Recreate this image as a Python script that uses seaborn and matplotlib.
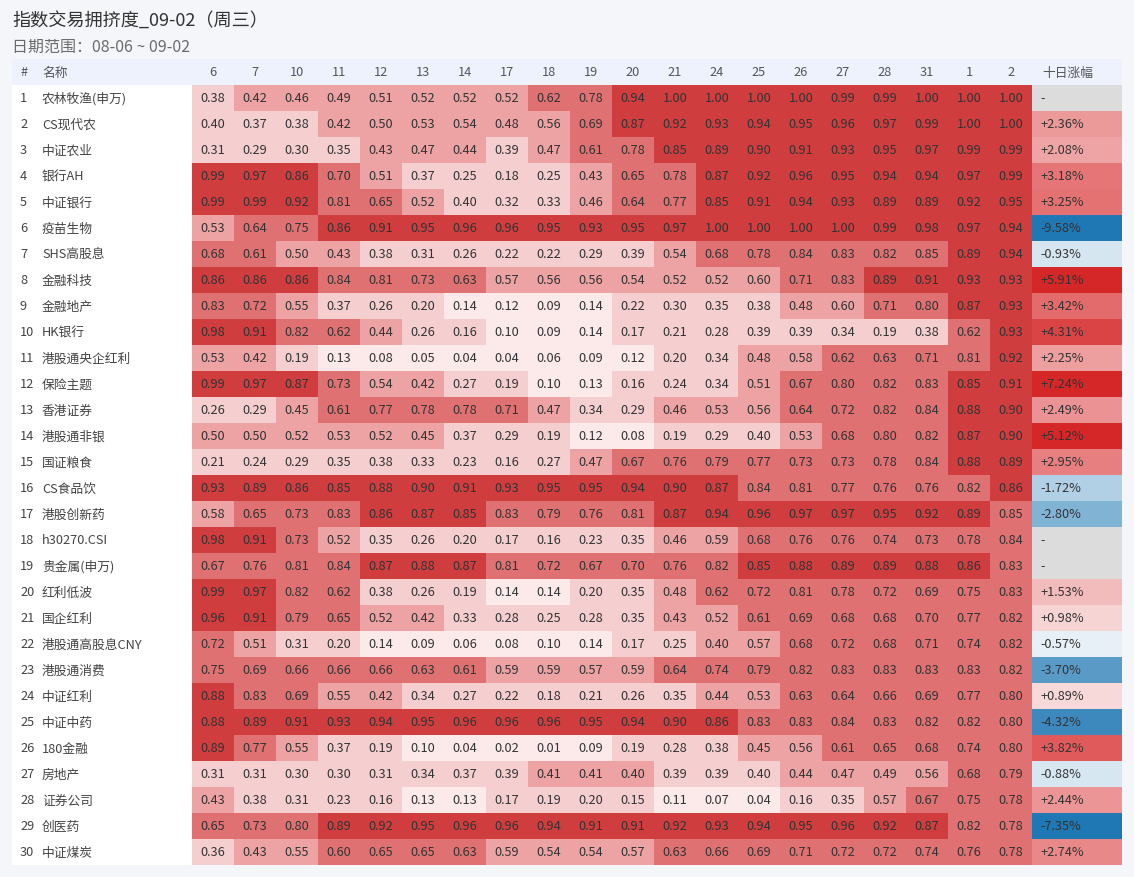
import numpy as np
import pandas as pd
import matplotlib
matplotlib.use("Agg")
import matplotlib.pyplot as plt
import matplotlib.transforms as mtransforms
from matplotlib.patches import Rectangle
from matplotlib.colors import ListedColormap, BoundaryNorm, LinearSegmentedColormap
import seaborn as sns

# ---------------- data ----------------
title = "指数交易拥挤度_09-02（周三）"
subtitle = "日期范围：08-06 ~ 09-02"

dates = ["6", "7", "10", "11", "12", "13", "14", "17", "18", "19",
         "20", "21", "24", "25", "26", "27", "28", "31", "1", "2"]

names = ["农林牧渔(申万)", "CS现代农", "中证农业", "银行AH", "中证银行", "疫苗生物",
         "SHS高股息", "金融科技", "金融地产", "HK银行", "港股通央企红利", "保险主题",
         "香港证券", "港股通非银", "国证粮食", "CS食品饮", "港股创新药", "h30270.CSI",
         "贵金属(申万)", "红利低波", "国企红利", "港股通高股息CNY", "港股通消费", "中证红利",
         "中证中药", "180金融", "房地产", "证券公司", "创医药", "中证煤炭"]

crowding = [
    [0.38, 0.42, 0.46, 0.49, 0.51, 0.52, 0.52, 0.52, 0.62, 0.78, 0.94, 1.00, 1.00, 1.00, 1.00, 0.99, 0.99, 1.00, 1.00, 1.00],
    [0.396, 0.37, 0.38, 0.42, 0.50, 0.53, 0.54, 0.48, 0.56, 0.69, 0.87, 0.92, 0.93, 0.94, 0.95, 0.96, 0.97, 0.99, 1.00, 1.00],
    [0.31, 0.29, 0.30, 0.35, 0.43, 0.47, 0.44, 0.39, 0.47, 0.61, 0.78, 0.852, 0.89, 0.90, 0.91, 0.93, 0.95, 0.97, 0.99, 0.99],
    [0.99, 0.97, 0.86, 0.70, 0.51, 0.37, 0.25, 0.18, 0.25, 0.43, 0.65, 0.78, 0.87, 0.92, 0.96, 0.95, 0.94, 0.94, 0.97, 0.99],
    [0.99, 0.99, 0.92, 0.81, 0.65, 0.52, 0.396, 0.32, 0.33, 0.46, 0.64, 0.77, 0.852, 0.91, 0.94, 0.93, 0.89, 0.89, 0.92, 0.95],
    [0.53, 0.64, 0.75, 0.86, 0.91, 0.95, 0.96, 0.96, 0.95, 0.93, 0.95, 0.97, 1.00, 1.00, 1.00, 1.00, 0.99, 0.98, 0.97, 0.94],
    [0.68, 0.61, 0.50, 0.43, 0.38, 0.31, 0.26, 0.22, 0.22, 0.29, 0.39, 0.54, 0.68, 0.78, 0.84, 0.83, 0.82, 0.848, 0.89, 0.94],
    [0.86, 0.86, 0.86, 0.84, 0.81, 0.73, 0.63, 0.57, 0.56, 0.56, 0.54, 0.52, 0.52, 0.596, 0.71, 0.83, 0.89, 0.91, 0.93, 0.93],
    [0.83, 0.72, 0.55, 0.37, 0.26, 0.20, 0.14, 0.12, 0.09, 0.14, 0.22, 0.30, 0.35, 0.38, 0.48, 0.596, 0.71, 0.80, 0.87, 0.93],
    [0.98, 0.91, 0.82, 0.62, 0.44, 0.26, 0.16, 0.10, 0.09, 0.14, 0.17, 0.21, 0.28, 0.39, 0.39, 0.34, 0.19, 0.38, 0.62, 0.93],
    [0.53, 0.42, 0.19, 0.13, 0.08, 0.05, 0.04, 0.04, 0.06, 0.09, 0.12, 0.20, 0.34, 0.48, 0.58, 0.62, 0.63, 0.71, 0.81, 0.92],
    [0.99, 0.97, 0.87, 0.73, 0.54, 0.42, 0.27, 0.19, 0.10, 0.13, 0.16, 0.24, 0.34, 0.51, 0.67, 0.80, 0.82, 0.83, 0.852, 0.91],
    [0.26, 0.29, 0.45, 0.61, 0.77, 0.78, 0.78, 0.71, 0.47, 0.34, 0.29, 0.46, 0.53, 0.56, 0.64, 0.72, 0.82, 0.84, 0.88, 0.90],
    [0.50, 0.50, 0.52, 0.53, 0.52, 0.45, 0.37, 0.29, 0.19, 0.12, 0.08, 0.19, 0.29, 0.396, 0.53, 0.68, 0.80, 0.82, 0.87, 0.90],
    [0.21, 0.24, 0.29, 0.35, 0.38, 0.33, 0.23, 0.16, 0.27, 0.47, 0.67, 0.76, 0.79, 0.77, 0.73, 0.73, 0.78, 0.84, 0.88, 0.89],
    [0.93, 0.89, 0.86, 0.852, 0.88, 0.90, 0.91, 0.93, 0.95, 0.95, 0.94, 0.90, 0.87, 0.84, 0.81, 0.77, 0.76, 0.76, 0.82, 0.86],
    [0.58, 0.65, 0.73, 0.83, 0.86, 0.87, 0.852, 0.83, 0.79, 0.76, 0.81, 0.87, 0.94, 0.96, 0.97, 0.97, 0.95, 0.92, 0.89, 0.848],
    [0.98, 0.91, 0.73, 0.52, 0.35, 0.26, 0.20, 0.17, 0.16, 0.23, 0.35, 0.46, 0.59, 0.68, 0.76, 0.76, 0.74, 0.73, 0.78, 0.84],
    [0.67, 0.76, 0.81, 0.84, 0.87, 0.88, 0.87, 0.81, 0.72, 0.67, 0.70, 0.76, 0.82, 0.852, 0.88, 0.89, 0.89, 0.88, 0.86, 0.83],
    [0.99, 0.97, 0.82, 0.62, 0.38, 0.26, 0.19, 0.14, 0.14, 0.20, 0.35, 0.48, 0.62, 0.72, 0.81, 0.78, 0.72, 0.69, 0.75, 0.83],
    [0.96, 0.91, 0.79, 0.65, 0.52, 0.42, 0.33, 0.28, 0.25, 0.28, 0.35, 0.43, 0.52, 0.61, 0.69, 0.68, 0.68, 0.70, 0.77, 0.82],
    [0.72, 0.51, 0.31, 0.20, 0.14, 0.09, 0.06, 0.08, 0.10, 0.14, 0.17, 0.25, 0.404, 0.57, 0.68, 0.72, 0.68, 0.71, 0.74, 0.82],
    [0.75, 0.69, 0.66, 0.66, 0.66, 0.63, 0.61, 0.59, 0.59, 0.57, 0.59, 0.64, 0.74, 0.79, 0.82, 0.83, 0.83, 0.83, 0.83, 0.82],
    [0.88, 0.83, 0.69, 0.55, 0.42, 0.34, 0.27, 0.22, 0.18, 0.21, 0.26, 0.35, 0.44, 0.53, 0.63, 0.64, 0.66, 0.69, 0.77, 0.80],
    [0.88, 0.89, 0.91, 0.93, 0.94, 0.95, 0.96, 0.96, 0.96, 0.95, 0.94, 0.90, 0.86, 0.83, 0.83, 0.84, 0.83, 0.82, 0.82, 0.80],
    [0.89, 0.77, 0.55, 0.37, 0.19, 0.10, 0.04, 0.02, 0.01, 0.09, 0.19, 0.28, 0.38, 0.45, 0.56, 0.61, 0.65, 0.68, 0.74, 0.80],
    [0.31, 0.31, 0.30, 0.30, 0.31, 0.34, 0.37, 0.39, 0.41, 0.41, 0.404, 0.39, 0.39, 0.396, 0.44, 0.47, 0.49, 0.56, 0.68, 0.79],
    [0.43, 0.38, 0.31, 0.23, 0.16, 0.13, 0.13, 0.17, 0.19, 0.20, 0.15, 0.11, 0.07, 0.04, 0.16, 0.35, 0.57, 0.67, 0.75, 0.78],
    [0.65, 0.73, 0.80, 0.89, 0.92, 0.95, 0.96, 0.96, 0.94, 0.91, 0.91, 0.92, 0.93, 0.94, 0.95, 0.96, 0.92, 0.87, 0.82, 0.78],
    [0.36, 0.43, 0.55, 0.604, 0.65, 0.65, 0.63, 0.59, 0.54, 0.54, 0.57, 0.63, 0.66, 0.69, 0.71, 0.72, 0.72, 0.74, 0.76, 0.78],
]

ten_day_change = [np.nan, 2.36, 2.08, 3.18, 3.25, -9.58, -0.93, 5.91, 3.42, 4.31,
                  2.25, 7.24, 2.49, 5.12, 2.95, -1.72, -2.80, np.nan, np.nan, 1.53,
                  0.98, -0.57, -3.70, 0.89, -4.32, 3.82, -0.88, 2.44, -7.35, 2.74]

change_header = "十日涨幅"

# ---------------- style ----------------
sns.set_theme(style="white")
plt.rcParams["font.family"] = ["Noto Sans CJK SC", "DejaVu Sans"]

W, H = 1134, 878
fig = plt.figure(figsize=(W / 100, H / 100), dpi=100, facecolor="#f5f6fa")


def fx(px):
    return px / W


def fy(py):
    return 1 - py / H


TL, TR = 12, 1122          # table left/right (px)
HT, HB, TB = 60, 86, 866   # header top, header bottom, table bottom (px)
HM_L, HM_R = 192, 1032     # heatmap left/right (px)

# table background + header band (behind axes)
fig.patches.append(Rectangle((fx(TL), fy(TB)), fx(TR) - fx(TL), fy(HB) - fy(TB),
                             transform=fig.transFigure, facecolor="white",
                             edgecolor="none", zorder=-5))
fig.patches.append(Rectangle((fx(TL), fy(HB)), fx(TR) - fx(TL), fy(HT) - fy(HB),
                             transform=fig.transFigure, facecolor="#eef2fd",
                             edgecolor="none", zorder=-5))

# title texts
fig.text(fx(12), fy(21), title, fontsize=13.1, color="#333333", va="center", ha="left")
fig.text(fx(12), fy(47), subtitle, fontsize=11.5, color="#6b6b6b", va="center", ha="left")

# ---------------- main heatmap ----------------
df = pd.DataFrame(crowding, index=names, columns=dates)
bins = [0.0, 0.15, 0.40, 0.60, 0.85, 1.0001]
cmap = ListedColormap(["#fce9e9", "#f5cfd0", "#eda3a4", "#e07172", "#cf3d3f"])
norm = BoundaryNorm(bins, cmap.N)

ax = fig.add_axes([fx(HM_L), fy(TB), fx(HM_R) - fx(HM_L), fy(HB) - fy(TB)])
ax.set_zorder(1)
sns.heatmap(df, ax=ax, cmap=cmap, norm=norm, annot=True, fmt=".2f", cbar=False,
            linewidths=0, xticklabels=dates, yticklabels=False,
            annot_kws={"color": "#333333", "fontsize": 9.2})
ax.xaxis.tick_top()
ax.tick_params(axis="x", length=0, pad=9.4, labelsize=9.2, labelcolor="#555555", rotation=0)
for lab in ax.get_xticklabels():
    lab.set_va("center")
ax.set_xlabel("")
ax.set_ylabel("")

# row labels (# and name)
trans = mtransforms.blended_transform_factory(fig.transFigure, ax.transData)
for i, nm in enumerate(names):
    ax.text(fx(20), i + 0.5, str(i + 1), transform=trans, ha="left", va="center",
            fontsize=9.2, color="#444444")
    ax.text(fx(42), i + 0.5, nm, transform=trans, ha="left", va="center",
            fontsize=9.2, color="#444444")
fig.text(fx(20), fy(73), "#", fontsize=9.2, color="#555555", ha="left", va="center")
fig.text(fx(42), fy(73), "名称", fontsize=9.2, color="#555555", ha="left", va="center")

# ---------------- change column ----------------
dfc = pd.DataFrame({change_header: ten_day_change}, index=names)
div_cmap = LinearSegmentedColormap.from_list("div", ["#1f77b4", "#ffffff", "#d62728"])
ax2 = fig.add_axes([fx(HM_R), fy(TB), fx(TR) - fx(HM_R), fy(HB) - fy(TB)])
ax2.set_zorder(1)
ax2.set_facecolor("#dcdcdc")
sns.heatmap(dfc, ax=ax2, cmap=div_cmap, vmin=-5, vmax=5, annot=False, cbar=False,
            xticklabels=[change_header], yticklabels=False)
ax2.xaxis.tick_top()
ax2.set_xticks([0.4])
ax2.set_xticklabels([change_header])
ax2.tick_params(axis="x", length=0, pad=9.4, labelsize=9.2, labelcolor="#555555", rotation=0)
for lab in ax2.get_xticklabels():
    lab.set_va("center")
ax2.set_xlabel("")
ax2.set_ylabel("")
for i, v in enumerate(ten_day_change):
    label = "-" if np.isnan(v) else f"{v:+.2f}%"
    ax2.text(0.09, i + 0.5, label, ha="left", va="center", fontsize=9.2, color="#333333")

fig.savefig("out.png", dpi=100, facecolor=fig.get_facecolor())
